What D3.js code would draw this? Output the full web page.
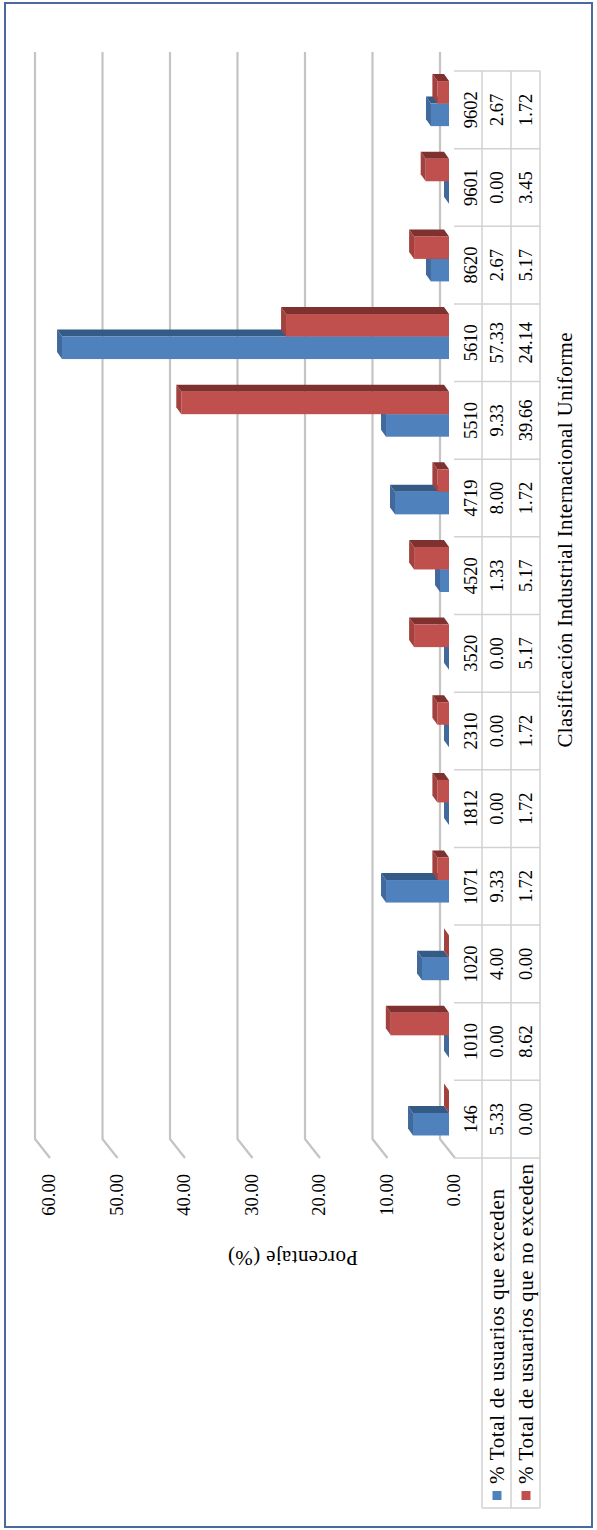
<!DOCTYPE html>
<html>
<head>
<meta charset="utf-8">
<script src="https://cdn.jsdelivr.net/npm/d3@7"></script>
<style>
  body { margin: 0; background: #fff; }
  text { font-family: "Liberation Serif", "Times New Roman", serif; fill: #000; }
</style>
</head>
<body>
<svg width="597" height="1530"></svg>
<script>
"use strict";

// chart data
var categories = ["146", "1010", "1020", "1071", "1812", "2310", "3520", "4520", "4719", "5510", "5610", "8620", "9601", "9602"];
var exceden = [5.33, 0.00, 4.00, 9.33, 0.00, 0.00, 0.00, 1.33, 8.00, 9.33, 57.33, 2.67, 0.00, 2.67];
var noExceden = [0.00, 8.62, 0.00, 1.72, 1.72, 1.72, 5.17, 5.17, 1.72, 39.66, 24.14, 5.17, 3.45, 1.72];
var seriesNames = ["% Total de usuarios que exceden", "% Total de usuarios que no exceden"];
var valueTicks = [0, 10, 20, 30, 40, 50, 60];
var xTitle = "Clasificación Industrial Internacional Uniforme";
var yTitle = "Porcentaje (%)";

var front = ["#4f81bd", "#c0504d"];
var side = ["#345a86", "#7f312f"];
var top_ = ["#41699b", "#a2413e"];

// the chart is laid out landscape, then turned a quarter to fit the page
var svg = d3.select("svg");
var g = svg.append("g").attr("transform", "translate(0,1530) rotate(-90)");

g.append("rect")
  .attr("x", 3).attr("y", 5)
  .attr("width", 1524).attr("height", 587)
  .attr("fill", "none")
  .attr("stroke", "#4a69a0")
  .attr("stroke-width", 2);

var x0 = d3.scaleBand().domain(categories).range([372, 1459]);
var bw = x0.bandwidth();
var x1 = d3.scaleBand().domain([0, 1]).range([bw * 0.29, bw * 0.87]);
var yFront = d3.scaleLinear().domain([0, 60]).range([449, 44]);
var yBack = d3.scaleLinear().domain([0, 60]).range([440, 35]);
var dx = 7, dy = -5;      // depth of a bar
var wx = -19, wy = 15;    // side wall, back to front

// gridlines on the back wall and side wall
var grid = g.append("g");
valueTicks.forEach(function(v) {
  var yb = yBack(v);
  grid.append("path")
    .attr("d", "M1478," + yb + "L391," + yb + "L" + (391 + wx) + "," + (yb + wy))
    .attr("fill", "none")
    .attr("stroke", "#c4c4c4")
    .attr("stroke-width", 2.2);
  g.append("text")
    .attr("x", 356)
    .attr("y", yb + wy - 1)
    .attr("text-anchor", "end")
    .attr("dominant-baseline", "central")
    .style("font-size", "18.5px")
    .text(d3.format(".2f")(v));
});

// 3d bars
var series = [exceden, noExceden];
categories.forEach(function(c, i) {
  [0, 1].forEach(function(s) {
    var v = series[s][i];
    var x = x0(c) + x1(s), w = x1.bandwidth();
    var yt = yFront(v), yb = yFront(0);
    var bar = g.append("g");
    if (v > 0) {
      bar.append("path")
        .attr("d", "M" + (x + w) + "," + yt + "L" + (x + w + dx) + "," + (yt + dy) +
                   "L" + (x + w + dx) + "," + (yb + dy) + "L" + (x + w) + "," + yb + "Z")
        .attr("fill", side[s]);
      bar.append("rect")
        .attr("x", x).attr("y", yt)
        .attr("width", w).attr("height", yb - yt)
        .attr("fill", front[s]);
    }
    bar.append("path")
      .attr("d", "M" + x + "," + yt + "L" + (x + dx) + "," + (yt + dy) +
                 "L" + (x + w + dx) + "," + (yt + dy) + "L" + (x + w) + "," + yt + "Z")
      .attr("fill", top_[s]);
  });
});

// data table under the axis
var tbl = g.append("g").attr("stroke", "#d2d2d2").attr("stroke-width", 1.5);
[482, 511, 540].forEach(function(y) {
  tbl.append("line").attr("x1", 22).attr("x2", 1459).attr("y1", y).attr("y2", y);
});
categories.forEach(function(c) {
  tbl.append("line").attr("x1", x0(c)).attr("x2", x0(c)).attr("y1", 454).attr("y2", 540);
});
tbl.append("line").attr("x1", 1459).attr("x2", 1459).attr("y1", 454).attr("y2", 540);
tbl.append("line").attr("x1", 22).attr("x2", 22).attr("y1", 482).attr("y2", 540);

var rows = [categories, exceden.map(d3.format(".2f")), noExceden.map(d3.format(".2f"))];
var rowY = [471, 497, 526];
rows.forEach(function(r, k) {
  g.append("g").selectAll("text").data(r).enter()
    .append("text")
      .attr("x", function(d, i) { return x0(categories[i]) + bw / 2; })
      .attr("y", rowY[k])
      .attr("text-anchor", "middle")
      .attr("dominant-baseline", "central")
      .style("font-size", "18.5px")
      .text(function(d) { return d; });
});

// legend keys inside the table
var keyLen = [295, 320];
seriesNames.forEach(function(name, s) {
  var cy = rowY[s + 1];
  g.append("rect")
    .attr("x", 30).attr("y", cy - 4.5)
    .attr("width", 9).attr("height", 9)
    .attr("fill", front[s]);
  g.append("text")
    .attr("x", 46).attr("y", cy)
    .attr("dominant-baseline", "central")
    .attr("textLength", keyLen[s])
    .attr("lengthAdjust", "spacing")
    .style("font-size", "21px")
    .text(name);
});

// axis titles
g.append("text")
  .attr("transform", "translate(272,293) rotate(-90)")
  .attr("text-anchor", "middle")
  .attr("dominant-baseline", "central")
  .attr("textLength", 130)
  .attr("lengthAdjust", "spacing")
  .style("font-size", "21px")
  .text(yTitle);

g.append("text")
  .attr("x", 990).attr("y", 565)
  .attr("text-anchor", "middle")
  .attr("dominant-baseline", "central")
  .attr("textLength", 415)
  .attr("lengthAdjust", "spacing")
  .style("font-size", "21px")
  .text(xTitle);
</script>
</body>
</html>
